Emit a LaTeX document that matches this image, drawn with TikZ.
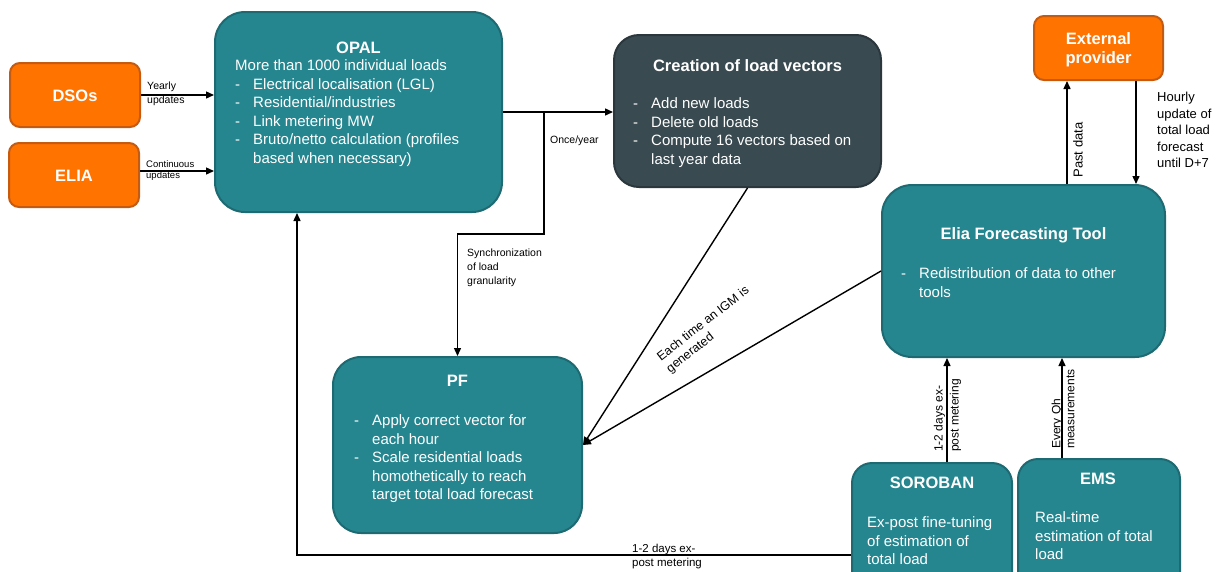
\documentclass[tikz,border=0pt]{standalone}
\usepackage{fontspec}
\setmainfont{Liberation Sans}
\usetikzlibrary{arrows.meta}
\definecolor{tealF}{HTML}{25868F}
\definecolor{tealD}{HTML}{1D6A72}
\definecolor{orgF}{HTML}{FF7300}
\definecolor{orgD}{HTML}{C55A11}
\definecolor{darkF}{HTML}{394A50}
\definecolor{darkD}{HTML}{2A373C}
\newcommand{\bul}{\makebox[18pt][l]{-}}
\newcommand{\ind}{\hspace*{18pt}}
\begin{document}
\begin{tikzpicture}[x=1pt,y=-1pt,
  box/.style={line width=2pt, inner sep=0pt},
  tealbox/.style={box, fill=tealF, draw=tealD},
  orgbox/.style={box, fill=orgF, draw=orgD, rounded corners=10pt},
  darkbox/.style={box, fill=darkF, draw=darkD},
  txt/.style={inner sep=0pt, text=white, font=\fontsize{15}{18.5}\selectfont, align=left},
  ttl/.style={inner sep=0pt, text=white, font=\fontsize{16.5}{19}\selectfont\bfseries},
  lbl/.style={inner sep=0pt, text=black, align=left},
  arr/.style={line width=1.4pt, -{Triangle[length=8pt,width=7pt]}}]
\useasboundingbox (0,0) rectangle (1225,571);
\clip (0,0) rectangle (1225,571);
\fill[white] (0,0) rectangle (1225,571);

% boxes
\node[orgbox, minimum width=130pt, minimum height=64pt] (dsos) at (75,95) {};
\node[orgbox, minimum width=130pt, minimum height=64pt] (elia) at (74,175) {};
\node[orgbox, minimum width=129pt, minimum height=64pt] (ext) at (1098.5,48) {};
\node[tealbox, rounded corners=30pt, minimum width=287pt, minimum height=200pt] (opal) at (358.5,112) {};
\node[darkbox, rounded corners=25pt, minimum width=267pt, minimum height=152pt] (crea) at (747.5,111) {};
\node[tealbox, rounded corners=30pt, minimum width=283pt, minimum height=172pt] (eft) at (1023.5,271) {};
\node[tealbox, rounded corners=28pt, minimum width=249pt, minimum height=176pt] (pf) at (457.5,445) {};
\node[tealbox, rounded corners=20pt, minimum width=160pt, minimum height=140pt] (sor) at (932,533) {};
\node[tealbox, rounded corners=20pt, minimum width=162pt, minimum height=140pt] (ems) at (1099,529) {};

% box texts
\node[ttl, anchor=base] (dsost) at (75,101) {DSOs};
\node[ttl, anchor=base] (eliat) at (74,181) {ELIA};
\node[ttl, anchor=north, align=center] (extt) at (1098.5,32) {External\\provider};

\node[ttl, anchor=base] (opalt) at (358.5,53) {OPAL};
\node[txt, anchor=north west] (opalb) at (235,59.5) {More than 1000 individual loads\\
\bul Electrical localisation (LGL)\\
\bul Residential/industries\\
\bul Link metering MW\\
\bul Bruto/netto calculation (profiles\\
\ind based when necessary)};

\node[ttl, anchor=base] (creat) at (747.5,71) {Creation of load vectors};
\node[txt, anchor=north west] (creab) at (633,97.5) {\bul Add new loads\\
\bul Delete old loads\\
\bul Compute 16 vectors based on\\
\ind last year data};

\node[ttl, anchor=base] (pft) at (457.5,386) {PF};
\node[txt, anchor=north west] (pfb) at (354,414.5) {\bul Apply correct vector for\\
\ind each hour\\
\bul Scale residential loads\\
\ind homothetically to reach\\
\ind target total load forecast};

\node[ttl, anchor=base] (eftt) at (1023.5,239) {Elia Forecasting Tool};
\node[txt, anchor=north west] (eftb) at (901,267.5) {\bul Redistribution of data to other\\
\ind tools};

\node[ttl, anchor=base] (sort) at (932,488) {SOROBAN};
\node[txt, anchor=north west] (sorb) at (867,516.5) {Ex-post fine-tuning\\of estimation of\\total load};

\node[ttl, anchor=base] (emst) at (1098,484) {EMS};
\node[txt, anchor=north west] (emsb) at (1035,511.5) {Real-time\\estimation of total\\load};

% helper coordinates
\coordinate (br) at (544,112);
\coordinate (sy) at (544,234);
\coordinate (pdx) at (1067,0);
\coordinate (hux) at (1136,0);
\coordinate (sox) at (947,0);
\coordinate (emx) at (1062,0);
\coordinate (ly) at (0,555);
\coordinate (ox) at (297,0);

% connectors
\draw[arr] (dsos.east) -- (dsos.east -| opal.west);
\draw[arr] ([yshift=4pt]elia.east) -- ([yshift=4pt]elia.east -| opal.west);
\draw[arr] (opal.east) -- (opal.east -| crea.west);
\draw[arr] (br) -- (sy) -| (pf.north);
\draw[arr] (crea.south) -- (pf.east);
\draw[arr] (eft.west) -- (pf.east);
\draw[arr] (eft.north -| pdx) -- (ext.south -| pdx);
\draw[arr] (ext.south -| hux) -- (eft.north -| hux);
\draw[arr] (sor.north -| sox) -- (eft.south -| sox);
\draw[arr] (ems.north -| emx) -- (eft.south -| emx);
\draw[arr] (sor.west |- ly) -| (opal.south -| ox);

% labels
\node[lbl, anchor=west, font=\fontsize{10.5}{14}\selectfont] (l1) at (147,94) {Yearly\\updates};
\node[lbl, anchor=west, font=\fontsize{9.5}{11}\selectfont] (l2) at (146,170.5) {Continuous\\updates};
\node[lbl, anchor=west, font=\fontsize{10.5}{13}\selectfont] (l3) at (550,141) {Once/year};
\node[lbl, anchor=west, font=\fontsize{10.5}{14}\selectfont] (l4) at (467,268) {Synchronization\\of load\\granularity};
\node[lbl, rotate=38, font=\fontsize{12.5}{15}\selectfont] (l5) at (708,330) {Each time an IGM is\\generated};
\node[lbl, rotate=90, font=\fontsize{13}{15}\selectfont] (l6) at (1078,150) {Past data};
\node[lbl, anchor=west, font=\fontsize{13}{16.5}\selectfont] (l7) at (1157,130) {Hourly\\update of\\total load\\forecast\\until D+7};
\node[lbl, rotate=90, anchor=west, font=\fontsize{12}{16}\selectfont] (l8) at (947.5,452) {1-2 days ex-\\post metering};
\node[lbl, rotate=90, anchor=west, font=\fontsize{12}{14}\selectfont] (l9) at (1063,449) {Every Qh\\measurements};
\node[lbl, anchor=west, font=\fontsize{11.5}{14.5}\selectfont] (l10) at (632,556.5) {1-2 days ex-\\post metering};
\end{tikzpicture}
\end{document}
